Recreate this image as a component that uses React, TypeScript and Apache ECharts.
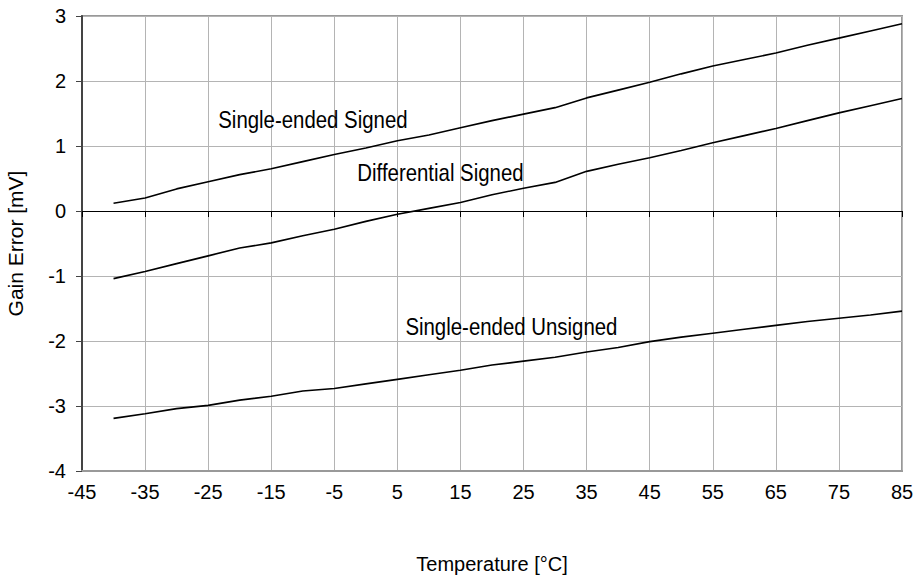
import React, { useEffect, useRef } from "react";
import * as echarts from "echarts";

const temps = [-40, -35, -30, -25, -20, -15, -10, -5, 0, 5, 10, 15, 20, 25, 30, 35, 40, 45, 50, 55, 60, 65, 70, 75, 80, 85];
const singleEndedSigned = [0.12, 0.2, 0.34, 0.45, 0.56, 0.65, 0.76, 0.87, 0.97, 1.08, 1.17, 1.28, 1.39, 1.49, 1.59, 1.74, 1.86, 1.98, 2.11, 2.23, 2.33, 2.43, 2.55, 2.66, 2.77, 2.88];
const differentialSigned = [-1.04, -0.93, -0.81, -0.69, -0.57, -0.49, -0.38, -0.28, -0.16, -0.05, 0.04, 0.13, 0.25, 0.35, 0.44, 0.61, 0.72, 0.82, 0.93, 1.05, 1.16, 1.27, 1.39, 1.51, 1.62, 1.73];
const singleEndedUnsigned = [-3.19, -3.12, -3.04, -2.99, -2.91, -2.85, -2.77, -2.73, -2.66, -2.59, -2.52, -2.45, -2.37, -2.31, -2.25, -2.17, -2.1, -2.01, -1.94, -1.88, -1.82, -1.76, -1.7, -1.65, -1.6, -1.54];

const seriesNames = ["Single-ended Signed", "Differential Signed", "Single-ended Unsigned"];
const labelAnchors: [number, number][] = [[-23.4, 1.405], [-1.35, 0.58], [6.27, -1.79]];

const xMin = -45, xMax = 85, xStep = 10;
const yMin = -4, yMax = 3, yStep = 1;

const FONT = "'Liberation Sans', Arial, sans-serif";

export default function App() {
  const ref = useRef<HTMLDivElement>(null);
  useEffect(() => {
    if (!ref.current) return;
    const chart = echarts.init(ref.current, null, { renderer: "svg" });
    const all = [singleEndedSigned, differentialSigned, singleEndedUnsigned];
    chart.setOption({
      animation: false,
      backgroundColor: "#fff",
      textStyle: { fontFamily: FONT },
      grid: {
        left: 82, right: 15, top: 16, bottom: 108, show: true,
        borderColor: "#999", borderWidth: 2, containLabel: false, outerBoundsMode: "none",
      },
      xAxis: [
        {
          type: "value", min: xMin, max: xMax, interval: xStep,
          name: "Temperature [°C]", nameLocation: "middle", nameGap: 83,
          nameTextStyle: { fontSize: 20, color: "#000", fontFamily: FONT },
          axisLine: { onZero: false, lineStyle: { color: "#999", width: 2 } },
          axisTick: { show: false },
          axisLabel: { fontSize: 20, color: "#000", margin: 11, fontFamily: FONT },
          splitLine: { show: true, lineStyle: { color: "#b4b4b4", width: 1 } },
        },
        {
          type: "value", min: xMin, max: xMax, interval: xStep, position: "bottom",
          axisLine: { onZero: true, lineStyle: { color: "#000", width: 1 } },
          axisTick: { show: true, length: 6, lineStyle: { color: "#000" } },
          axisLabel: { show: false },
          splitLine: { show: false },
        },
      ],
      yAxis: {
        type: "value", min: yMin, max: yMax, interval: yStep,
        name: "Gain Error [mV]", nameLocation: "middle", nameGap: 56,
        nameTextStyle: { fontSize: 21, color: "#000", fontFamily: FONT },
        axisLine: { show: true, onZero: false, lineStyle: { color: "#444", width: 2 } },
        axisTick: { show: true, length: 6, lineStyle: { color: "#444" } },
        axisLabel: { fontSize: 20, color: "#000", margin: 16, fontFamily: FONT },
        splitLine: { show: true, lineStyle: { color: "#b4b4b4", width: 1 } },
      },
      series: [
        ...all.map((vals, i) => ({
          type: "line",
          name: seriesNames[i],
          data: temps.map((t, k) => [t, vals[k]]),
          showSymbol: false,
          symbol: "none",
          lineStyle: { color: "#000", width: 1.6 },
        })),
        {
          type: "custom",
          name: "labels",
          xAxisIndex: 0,
          data: labelAnchors,
          clip: false,
          renderItem: (params: any, api: any) => {
            const p = api.coord([api.value(0), api.value(1)]);
            return {
              type: "text",
              x: p[0],
              y: p[1],
              scaleX: 0.85,
              style: {
                text: seriesNames[params.dataIndex],
                fontSize: 24,
                fontFamily: FONT,
                fill: "#000",
                align: "left",
                verticalAlign: "middle",
              },
            };
          },
        },
      ],
    });
    return () => chart.dispose();
  }, []);
  return <div ref={ref} style={{ width: 917, height: 579, position: "absolute", left: 0, top: 0 }} />;
}
